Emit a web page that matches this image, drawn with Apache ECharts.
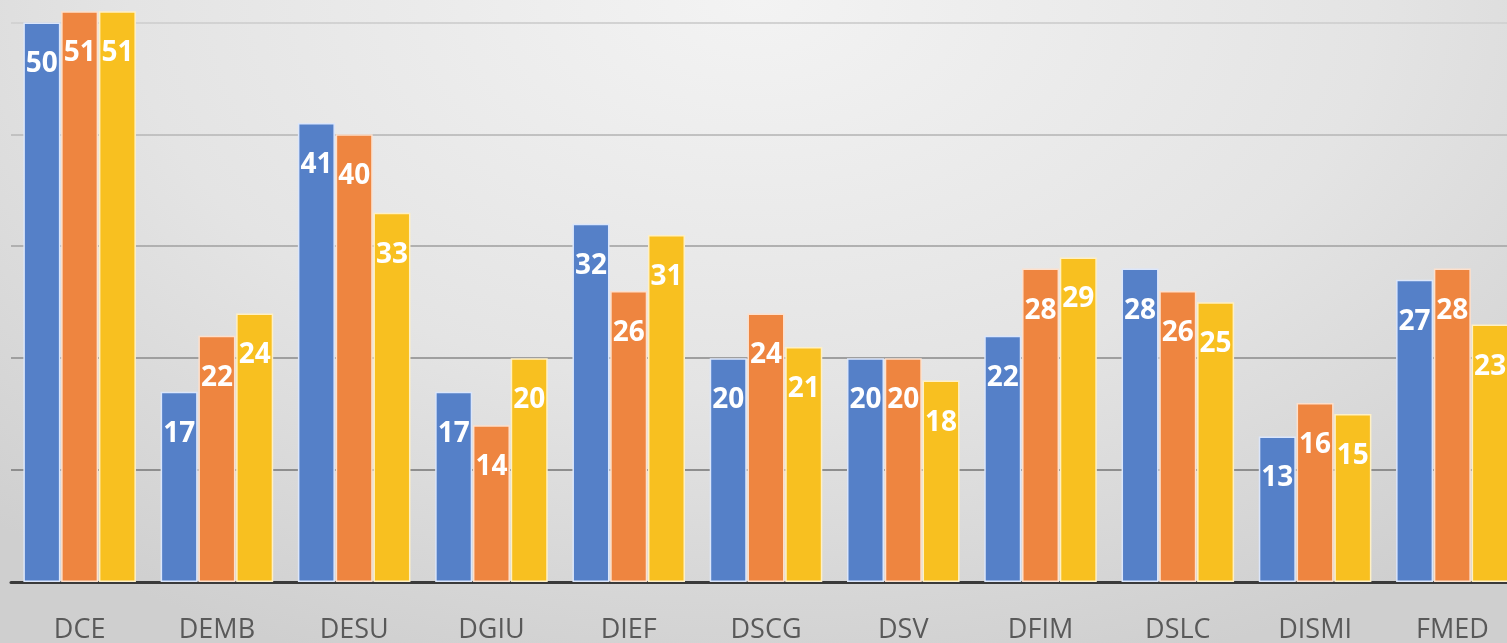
<!DOCTYPE html>
<html>
<head>
<meta charset="utf-8">
<script src="https://cdn.jsdelivr.net/npm/echarts@6/dist/echarts.min.js"></script>
<style>
  html, body { margin: 0; padding: 0; }
  body {
    width: 1507px; height: 643px; overflow: hidden;
    background: radial-gradient(ellipse 75% 110% at 50% 0%, #f3f3f3 0%, #e4e4e4 55%, #cfcfcf 100%);
  }
  #chart { width: 1507px; height: 643px; }
</style>
</head>
<body>
<div id="chart"></div>
<script>
var categories = ['DCE', 'DEMB', 'DESU', 'DGIU', 'DIEF', 'DSCG', 'DSV', 'DFIM', 'DSLC', 'DISMI', 'FMED'];
var serie1 = [50, 17, 41, 17, 32, 20, 20, 22, 28, 13, 27];
var serie2 = [51, 22, 40, 14, 26, 24, 20, 28, 26, 16, 28];
var serie3 = [51, 24, 33, 20, 31, 21, 18, 29, 25, 15, 23];

var colors = ['#5580c8', '#ee8540', '#f8c020'];
var borders = ['#dbe6fb', '#fde0cc', '#fff0c4'];

function makeSerie(name, data, i) {
    return {
        name: name,
        type: 'bar',
        data: data,
        barGap: '2%',
        barCategoryGap: '18%',
        itemStyle: { color: colors[i], borderColor: borders[i], borderWidth: 1.5 },
        label: {
            show: true,
            position: 'insideTop',
            distance: 28,
            color: '#fff',
            fontFamily: 'Open Sans',
            fontWeight: 'bold',
            fontSize: 28,
            lineHeight: 28
        }
    };
}

var myChart = echarts.init(document.getElementById('chart'));
var option = {
    backgroundColor: 'transparent',
    animation: false,
    grid: { left: 11, top: 0, width: 1510, bottom: 61, containLabel: false, outerBoundsMode: 'none' },
    xAxis: {
        type: 'category',
        data: categories,
        axisTick: { show: false },
        axisLine: { lineStyle: { color: '#3a3a3a', width: 3 } },
        axisLabel: { color: '#595959', fontFamily: 'Open Sans', fontSize: 27, margin: 35 }
    },
    yAxis: {
        type: 'value',
        min: 0,
        max: 52,
        interval: 10,
        axisLabel: { show: false },
        axisLine: { show: false },
        splitLine: {
            showMaxLine: false,
            lineStyle: {
                width: 2,
                color: {
                    type: 'linear', x: 0, y: 0, x2: 0, y2: 600, global: true,
                    colorStops: [{ offset: 0, color: '#d6d6d6' }, { offset: 1, color: '#7a7a7a' }]
                }
            }
        }
    },
    series: [
        makeSerie('A', serie1, 0),
        makeSerie('B', serie2, 1),
        makeSerie('C', serie3, 2)
    ]
};
myChart.setOption(option);
</script>
</body>
</html>
